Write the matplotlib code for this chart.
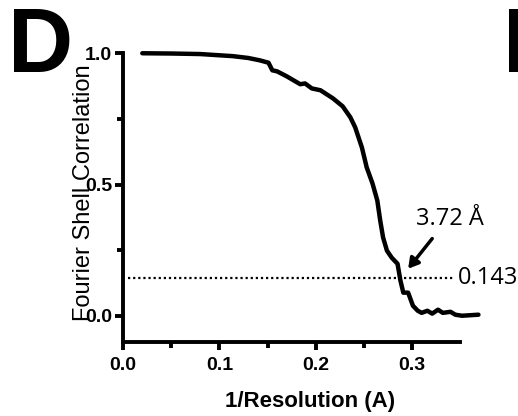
import numpy as np
import matplotlib.pyplot as plt

plt.rcParams["font.family"] = ["Liberation Sans", "DejaVu Sans"]

# FSC curve
spatial_freq = [0.020, 0.050, 0.080, 0.114, 0.130, 0.142, 0.151, 0.155, 0.160, 0.170,
                0.177, 0.184, 0.189, 0.196, 0.205, 0.218, 0.228, 0.236, 0.241, 0.248,
                0.253, 0.259, 0.264, 0.267, 0.270, 0.274, 0.279, 0.285, 0.288, 0.291,
                0.296, 0.301, 0.306, 0.310, 0.316, 0.321, 0.327, 0.332, 0.340, 0.345,
                0.352, 0.369]
fsc = [1.000, 0.999, 0.997, 0.989, 0.982, 0.973, 0.964, 0.935, 0.931, 0.912,
       0.897, 0.882, 0.885, 0.866, 0.859, 0.828, 0.798, 0.756, 0.718, 0.641,
       0.565, 0.504, 0.439, 0.363, 0.298, 0.248, 0.221, 0.198, 0.134, 0.088,
       0.088, 0.038, 0.019, 0.011, 0.019, 0.008, 0.023, 0.011, 0.015, 0.004,
       0.000, 0.004]
threshold = 0.143
resolution_label = "3.72 Å"
x_ticks = [0.0, 0.1, 0.2, 0.3]
y_ticks = [0.0, 0.5, 1.0]

fig = plt.figure(figsize=(5.18, 4.16), dpi=100)
ax = fig.add_axes([0.2375, 0.1779, 0.7066, 0.7067])

ax.plot(spatial_freq, fsc, color="black", lw=3.2, solid_capstyle="round",
        solid_joinstyle="round", clip_on=False)
ax.plot([0.005, 0.345], [threshold, threshold], color="black", lw=1.6,
        dashes=(1, 1.3))

ax.set_xlim(0, 0.38)
ax.set_ylim(-0.1, 1.02)
ax.spines["top"].set_visible(False)
ax.spines["right"].set_visible(False)
ax.spines["left"].set_linewidth(2.8)
ax.spines["bottom"].set_linewidth(2.8)
ax.spines["left"].set_bounds(-0.1, 1.0)
ax.spines["bottom"].set_bounds(0, 0.35)

ax.set_xticks(x_ticks)
ax.set_xticklabels([f"{v:.1f}" for v in x_ticks], fontweight="bold", fontsize=14)
ax.set_xticks([0.05, 0.15, 0.25], minor=True)
ax.set_yticks(y_ticks)
ax.set_yticklabels([f"{v:.1f}" for v in y_ticks], fontweight="bold", fontsize=14)
ax.set_yticks([0.25, 0.75], minor=True)
ax.tick_params(which="major", length=6, width=2.8, direction="out")
ax.tick_params(which="minor", length=4, width=2.8, direction="out")
ax.tick_params(axis="x", pad=5)
ax.tick_params(axis="y", pad=2)

fig.text(0.598, 0.036, "1/Resolution (A)", ha="center", va="center",
         fontsize=16, fontweight="bold")
fig.text(0.162, 0.538, "Fourier Shell Correlation", ha="center", va="center",
         rotation=90, fontsize=17)

ax.annotate("", xy=(0.296, 0.179), xytext=(0.321, 0.294),
            arrowprops=dict(arrowstyle="-|>,head_length=0.6,head_width=0.35",
                            color="black", lw=2.5, shrinkA=0, shrinkB=0))
ax.text(0.3395, 0.37, resolution_label, ha="center", va="center",
        fontsize=17, family="Open Sans")
ax.text(0.348, threshold, f"{threshold:.3f}", ha="left", va="center",
        fontsize=17, family="Open Sans", clip_on=False)

fig.text(0.015, 0.827, "D", ha="left", va="baseline", fontsize=65,
         fontweight="bold")
fig.text(0.972, 0.827, "E", ha="left", va="baseline", fontsize=65,
         fontweight="bold")

fig.savefig("out.png", dpi=100)
